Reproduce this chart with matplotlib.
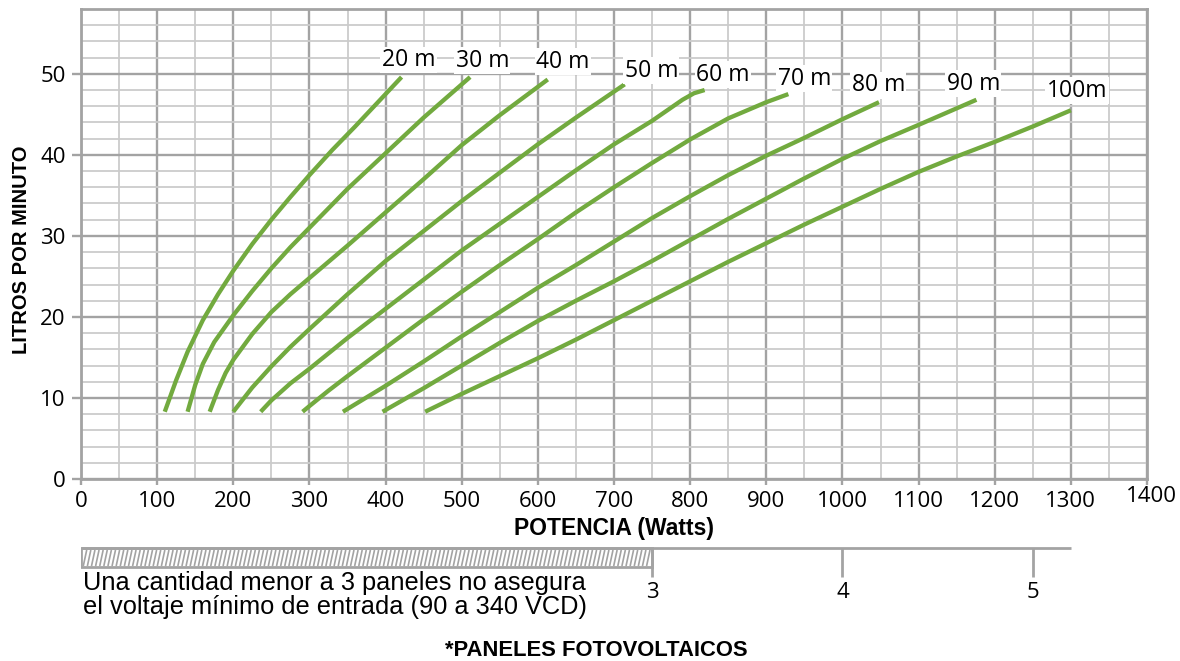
import numpy as np
import matplotlib
matplotlib.use('Agg')
import matplotlib.pyplot as plt
from matplotlib.ticker import MultipleLocator, FixedLocator
from matplotlib.collections import LineCollection
import matplotlib.transforms as mtransforms

# %% data (power in W, flow in litres per minute)
watts_20m = [110, 125, 140, 160, 180, 200, 225, 250, 275, 300, 330, 360, 390, 421]
lpm_20m = [8.3, 12.2, 15.7, 19.6, 22.8, 25.7, 29.0, 32.0, 34.8, 37.5, 40.6, 43.5, 46.5, 49.6]

watts_30m = [140, 150, 160, 175, 200, 225, 250, 275, 300, 350, 400, 450, 511]
lpm_30m = [8.3, 11.6, 14.2, 16.9, 20.2, 23.2, 26.0, 28.6, 31.0, 35.8, 40.2, 44.6, 49.6]

watts_40m = [169, 180, 190, 200, 225, 250, 275, 300, 350, 400, 450, 500, 550, 613]
lpm_40m = [8.3, 11.0, 13.1, 14.7, 17.9, 20.6, 22.8, 24.8, 28.8, 32.9, 37.0, 41.2, 44.9, 49.3]

watts_50m = [200, 225, 250, 275, 300, 350, 400, 450, 500, 550, 600, 650, 714]
lpm_50m = [8.3, 11.3, 13.9, 16.3, 18.5, 22.8, 26.9, 30.6, 34.3, 37.8, 41.3, 44.6, 48.7]

watts_60m = [236, 250, 275, 300, 350, 400, 450, 500, 550, 600, 650, 700, 750, 790, 805, 819]
lpm_60m = [8.3, 9.7, 11.8, 13.6, 17.4, 21.0, 24.6, 28.2, 31.5, 34.8, 38.1, 41.3, 44.2, 46.8, 47.6, 48.0]

watts_70m = [291, 300, 325, 350, 400, 450, 500, 550, 600, 650, 700, 750, 800, 850, 900, 929]
lpm_70m = [8.3, 9.0, 10.9, 12.7, 16.2, 19.7, 23.1, 26.4, 29.6, 32.9, 36.0, 39.0, 41.9, 44.5, 46.5, 47.5]

watts_80m = [344, 400, 450, 500, 550, 600, 650, 700, 750, 800, 850, 900, 950, 1000, 1048]
lpm_80m = [8.3, 11.5, 14.5, 17.6, 20.6, 23.6, 26.4, 29.3, 32.2, 34.9, 37.5, 39.9, 42.1, 44.4, 46.5]

watts_90m = [396, 450, 500, 550, 600, 650, 700, 750, 800, 850, 900, 950, 1000, 1050, 1100, 1176]
lpm_90m = [8.3, 11.2, 14.0, 16.8, 19.5, 22.0, 24.4, 26.9, 29.5, 32.1, 34.6, 37.1, 39.5, 41.7, 43.7, 46.8]

watts_100m = [452, 500, 550, 600, 650, 700, 750, 800, 850, 900, 950, 1000, 1050, 1100, 1150, 1200, 1250, 1300]
lpm_100m = [8.3, 10.5, 12.7, 14.9, 17.2, 19.6, 22.0, 24.4, 26.8, 29.1, 31.4, 33.6, 35.8, 37.9, 39.8, 41.6, 43.5, 45.5]

curve_names = ["20 m", "30 m", "40 m", "50 m", "60 m", "70 m", "80 m", "90 m", "100m"]
curve_watts = [watts_20m, watts_30m, watts_40m, watts_50m, watts_60m,
               watts_70m, watts_80m, watts_90m, watts_100m]
curve_lpm = [lpm_20m, lpm_30m, lpm_40m, lpm_50m, lpm_60m,
             lpm_70m, lpm_80m, lpm_90m, lpm_100m]

# where the curve names sit (W, l/min)
label_watts = [430, 527, 633, 749, 843, 950, 1047, 1172, 1308]
label_lpm = [51.7, 51.6, 51.5, 50.4, 49.9, 49.4, 48.6, 48.8, 47.9]

# panel scale under the x axis
panel_watts = [750, 1000, 1250]
panel_labels = ["3", "4", "5"]
panel_min_watts = 750
panel_axis_end = 1300

x_ticks = list(range(0, 1500, 100))
y_ticks = [0, 10, 20, 30, 40, 50]

# %% styles
green = '#72aa3f'
grid_major = '#a3a3a3'
grid_minor = '#cbcbcb'
tick_fs = 16

plt.rcParams['font.family'] = ['Open Sans', 'DejaVu Sans']
W, H = 1180, 661
fig = plt.figure(figsize=(W / 100, H / 100), dpi=100)

# main plot area in pixels: x 81..1147, y 9..479
ax = fig.add_axes([81 / W, 1 - 479 / H, 1066 / W, 470 / H])
ax.set_xlim(0, 1400)
ax.set_ylim(0, 58)

ax.xaxis.set_major_locator(FixedLocator(x_ticks))
ax.xaxis.set_minor_locator(MultipleLocator(50))
ax.yaxis.set_major_locator(FixedLocator(y_ticks))
ax.yaxis.set_minor_locator(MultipleLocator(2))

ax.set_axisbelow(True)
ax.grid(True, which='major', color=grid_major, linewidth=1.7)
ax.grid(True, which='minor', color=grid_minor, linewidth=1.3)
for s in ax.spines.values():
    s.set_color(grid_major)
    s.set_linewidth(2)

ax.tick_params(axis='both', which='minor', length=0)
ax.tick_params(axis='x', which='major', length=4.5, width=1.7, color=grid_major,
               pad=4, labelsize=tick_fs)
ax.tick_params(axis='y', which='major', length=6.5, width=1.7, color=grid_major,
               pad=4.5, labelsize=tick_fs)
ax.set_xticklabels([str(t) if t != 1400 else '' for t in x_ticks])
ax.set_yticklabels([str(t) for t in y_ticks])

# the 1400 label sits a bit higher in the original
off = mtransforms.offset_copy(ax.get_xaxis_transform(), fig=fig, x=3, y=-5, units='points')
ax.text(1400, 0, '1400', transform=off, ha='center', va='top', fontsize=tick_fs)

for w, l in zip(curve_watts, curve_lpm):
    ax.plot(w, l, color=green, linewidth=3.1, solid_capstyle='butt', zorder=2)

for name, w, l in zip(curve_names, label_watts, label_lpm):
    ax.text(w, l, name, ha='center', va='center', fontsize=16.5, zorder=3,
            bbox=dict(facecolor='white', edgecolor='none', pad=1.0))

# %% panel scale, y in pixel rows
ax2 = fig.add_axes([81 / W, 0, 1066 / W, 121 / H])
ax2.set_xlim(0, 1400)
ax2.set_ylim(661, 540)
ax2.axis('off')

ax2.plot([0, panel_axis_end], [548, 548], color=grid_major, linewidth=2, solid_capstyle='butt')
ax2.add_patch(plt.Rectangle((0, 548), panel_min_watts, 19, facecolor='white',
                            edgecolor=grid_major, linewidth=2))
hx = np.arange(3, panel_min_watts - 5, 5.4)
segs = [[(x0, 566), (x0 + 4.5, 550)] for x0 in hx]
ax2.add_collection(LineCollection(segs, colors=grid_major, linewidths=1.2))
ax2.vlines(panel_watts, 548, 577, colors=grid_major, linewidth=2)
for pw, pl in zip(panel_watts, panel_labels):
    ax2.text(pw, 592, pl, ha='center', va='center', fontsize=tick_fs)

# %% text labels
bold = ['Liberation Sans', 'DejaVu Sans']
fig.text(22 / W, 1 - 250 / H, 'LITROS POR MINUTO', rotation=90, ha='center', va='center',
         fontsize=14.5, fontweight='bold', family=bold)
fig.text(614 / W, 1 - 528 / H, 'POTENCIA (Watts)', ha='center', va='center',
         fontsize=16.5, fontweight='bold', family=bold)
fig.text(596 / W, 1 - 650 / H, '*PANELES FOTOVOLTAICOS', ha='center', va='center',
         fontsize=15.8, fontweight='bold', family=bold)
fig.text(83 / W, 1 - 571 / H,
         'Una cantidad menor a 3 paneles no asegura\nel voltaje mínimo de entrada (90 a 340 VCD)',
         ha='left', va='top', fontsize=18.3, linespacing=1.02, family=['Liberation Sans', 'DejaVu Sans'])

fig.savefig('out.png', dpi=100)
